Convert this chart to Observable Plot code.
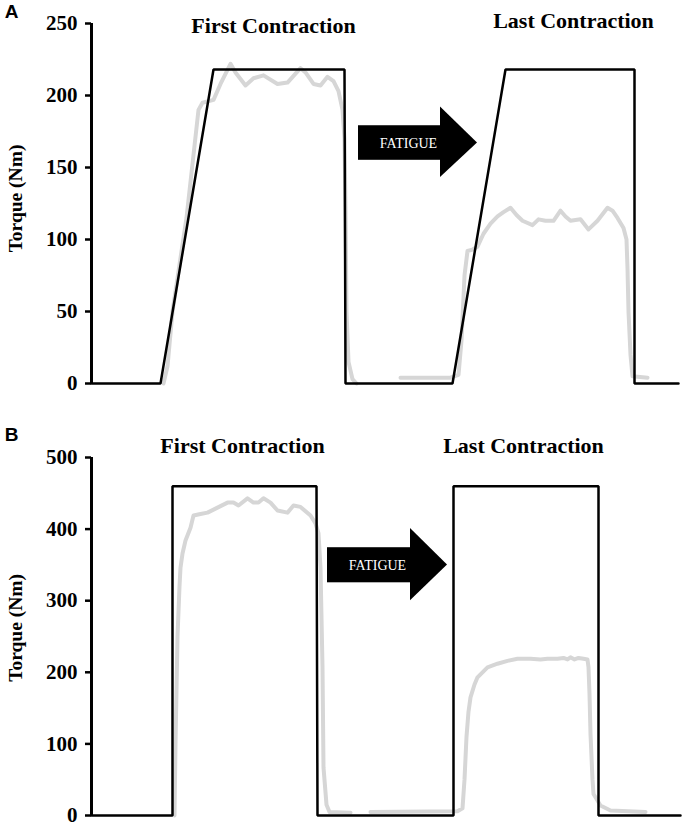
<!DOCTYPE html>
<html>
<head>
<meta charset="utf-8">
<script src="https://cdn.jsdelivr.net/npm/d3@7"></script>
<script src="https://cdn.jsdelivr.net/npm/@observablehq/plot@0.6"></script>
<style>
  html, body { margin: 0; padding: 0; background: white; }
  #chart { width: 685px; }
  #chart svg { display: block; }
</style>
</head>
<body>
<div id="chart"></div>
<script>
// ---------- DATA (time in arbitrary sample units, torque in Nm) ----------
const panelLetters = ["A", "B"];
const contractionTitles = ["First Contraction", "Last Contraction"];
const yAxisLabel = "Torque (Nm)";
const arrowLabel = "FATIGUE";

const ticksA = [0, 50, 100, 150, 200, 250];
const ticksB = [0, 100, 200, 300, 400, 500];

// Panel A: target (black) trace
const targetA_t = [0, 69, 122, 253, 254, 361, 414, 543, 543, 587];
const targetA_v = [0, 0, 218, 218, 0, 0, 218, 218, 0, 0];
// Panel A: measured torque (grey), first and last contraction
const grayA1_t = [72,76,81,95,107,111,122,129,139,144,154,162,172,186,196,209,214,222,229,236,242,247,251,253,254,255,257,261,265];
const grayA1_v = [0,12,50,115,190,195,197,208,222,216,207,212,214,208,209,219,216,208,207,213,210,203,190,170,120,50,15,3,0];
const grayA2_t = [309,359,367,370,373,376,381,386,392,399,406,412,419,425,431,441,447,454,462,469,474,479,489,497,506,516,521,526,532,535,536,537,539,541,556];
const grayA2_v = [4,4,6,30,75,92,93,95,104,111,116,119,122,117,113,110,114,113,113,120,116,113,114,107,113,122,120,115,108,100,80,50,20,5,4];

// Panel B: target (black) trace
const targetB_t = [0, 81, 81, 225, 226, 362, 362, 507, 507, 589];
const targetB_v = [0, 0, 460, 460, 0, 0, 460, 460, 0, 0];
// Panel B: measured torque (grey)
const grayB1_t = [83,84,86,88,89,91,94,99,102,109,116,126,136,142,147,156,162,167,172,179,186,196,202,209,219,224,227,229,231,232,235,238,259];
const grayB1_v = [0,100,250,320,346,366,384,402,419,421,423,430,437,437,433,443,437,437,443,437,426,423,433,431,419,408,394,346,207,67,15,5,4];
const grayB2_t = [279,366,371,373,375,377,379,383,386,391,396,406,416,426,439,449,456,466,472,476,479,483,487,492,496,497,498,499,501,502,509,519,554];
const grayB2_v = [5,6,10,50,110,145,165,183,193,200,207,212,216,219,219,218,219,219,220,218,221,218,220,219,218,207,170,114,50,30,14,7,5];

// ---------- LAYOUT (annotation placement in data units) ----------
const layoutA = {
  height: 400, marginTop: 23, marginBottom: 17, yMax: 250, ticks: ticksA,
  titles: [{t: 182, v: 248}, {t: 482, v: 252}],
  letter: {v: 258}, ylabel: {v: 128.5},
  arrow: {x1: 267, x2: 349, bodyLo: 155, bodyHi: 179, headLo: 143, headHi: 192, tip: 386, tipV: 167, textT: 317}
};
const layoutB = {
  height: 427, marginTop: 57, marginBottom: 12, yMax: 500, ticks: ticksB,
  titles: [{t: 151, v: 516}, {t: 432, v: 516}],
  letter: {v: 531}, ylabel: {v: 262},
  arrow: {x1: 236, x2: 319, bodyLo: 325, bodyHi: 374, headLo: 300, headHi: 401, tip: 356, tipV: 350, textT: 286}
};

const zip = (ts, vs, seg) => ts.map((t, i) => ({t, v: vs[i], seg}));

const SERIF = "'Liberation Serif', 'Times New Roman', serif";
const SANS = "'Liberation Sans', Arial, sans-serif";

function panel(letter, target, grays, L) {
  const a = L.arrow;
  const head = [{x: a.x2, lo: a.headLo, hi: a.headHi}, {x: a.tip, lo: a.tipV, hi: a.tipV}];
  return Plot.plot({
    width: 685, height: L.height,
    marginLeft: 91, marginRight: 5, marginTop: L.marginTop, marginBottom: L.marginBottom,
    x: {domain: [0, 589], axis: null},
    y: {domain: [0, L.yMax], axis: null},
    style: {background: "white", overflow: "visible"},
    marks: [
      Plot.axisY({ticks: L.ticks, tickSize: 6, tickPadding: 8, stroke: "black", strokeWidth: 2.5,
        fontSize: 21, fontWeight: "bold", fontFamily: SERIF, fill: "black", label: null}),
      Plot.ruleX([0], {stroke: "black", strokeWidth: 3}),
      Plot.line(grays, {x: "t", y: "v", z: "seg", stroke: "#d6d6d6", strokeWidth: 4, strokeLinejoin: "round", strokeLinecap: "round"}),
      Plot.line(target, {x: "t", y: "v", stroke: "black", strokeWidth: 2.5, strokeLinejoin: "miter"}),
      Plot.rect([a], {x1: "x1", x2: "x2", y1: "bodyLo", y2: "bodyHi", fill: "black"}),
      Plot.areaY(head, {x: "x", y1: "lo", y2: "hi", fill: "black"}),
      Plot.text([arrowLabel], {x: a.textT, y: (a.bodyLo + a.bodyHi) / 2, fill: "white",
        fontSize: 14, fontFamily: SERIF}),
      Plot.text(contractionTitles, {x: (d, i) => L.titles[i].t, y: (d, i) => L.titles[i].v, text: d => d,
        fontSize: 22, fontWeight: "bold", fontFamily: SERIF, fill: "black"}),
      Plot.text([yAxisLabel], {x: 0, dx: -76, y: L.ylabel.v, rotate: -90,
        fontSize: 19.5, fontWeight: "bold", fontFamily: SERIF, fill: "black"}),
      Plot.text([letter], {x: 0, dx: -80, y: L.letter.v,
        fontSize: 19, fontWeight: "bold", fontFamily: SANS, fill: "black"})
    ]
  });
}

const chart = document.getElementById("chart");
chart.appendChild(panel(panelLetters[0], zip(targetA_t, targetA_v, "target"),
  [...zip(grayA1_t, grayA1_v, "first"), ...zip(grayA2_t, grayA2_v, "last")], layoutA));
chart.appendChild(panel(panelLetters[1], zip(targetB_t, targetB_v, "target"),
  [...zip(grayB1_t, grayB1_v, "first"), ...zip(grayB2_t, grayB2_v, "last")], layoutB));
</script>
</body>
</html>
